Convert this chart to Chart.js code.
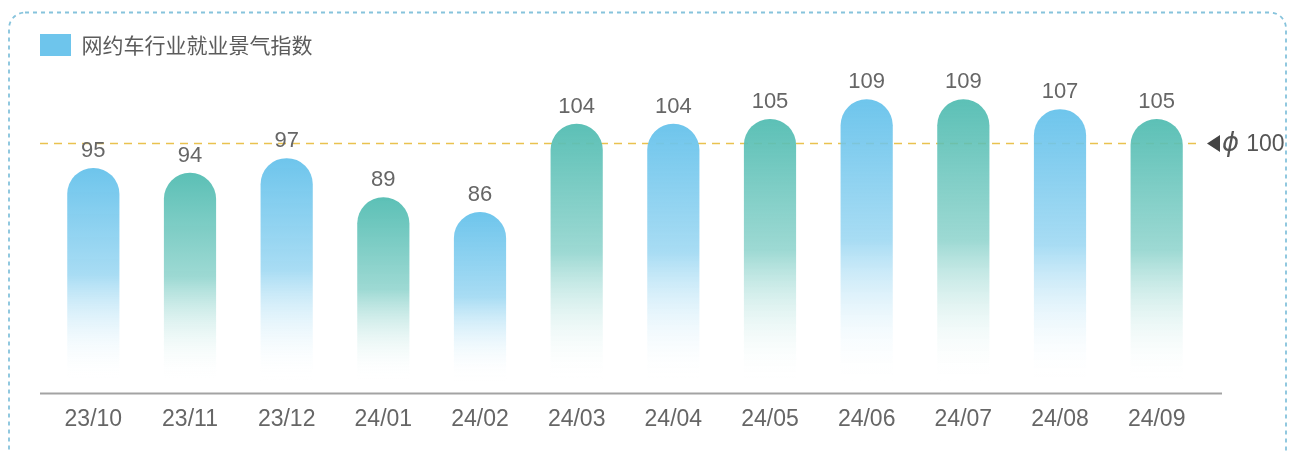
<!DOCTYPE html>
<html>
<head>
<meta charset="utf-8">
<script src="https://cdn.jsdelivr.net/npm/chart.js@4.4.1/dist/chart.umd.min.js"></script>
<style>
  body { margin: 0; background: #ffffff; }
  #wrap { width: 1289px; height: 451px; }
</style>
</head>
<body>
<div id="wrap"><canvas id="jobIndexChart" width="1289" height="451"></canvas></div>
<script>
// podaci sa slike
const months = ['23/10', '23/11', '23/12', '24/01', '24/02', '24/03', '24/04', '24/05', '24/06', '24/07', '24/08', '24/09'];
const indexValues = [95, 94, 97, 89, 86, 104, 104, 105, 109, 109, 107, 105];
const seriesName = '网约车行业就业景气指数';
const baseLine = 100;
const baseSymbol = 'ϕ';
const barColors = ['#6ec5ec', '#5cc0b6'];  // plava i tirkizna, naizmenicno

// okvir sa isprekidanom linijom oko cele kartice
const framePlugin = {
    id: 'frame',
    beforeDraw(chart) {
        const c = chart.ctx;
        c.save();
        c.strokeStyle = '#86c3dc';
        c.lineWidth = 1.8;
        c.setLineDash([4, 4]);
        c.beginPath();
        c.roundRect(9, 12.5, 1277, 480, 16);
        c.stroke();
        c.restore();
    }
};

// referentna linija na 100 i osa x
const baseLinePlugin = {
    id: 'baseLine',
    beforeDatasetsDraw(chart) {
        const c = chart.ctx;
        const area = chart.chartArea;
        const y = chart.scales.y.getPixelForValue(baseLine);
        c.save();
        c.strokeStyle = '#e9c24f';
        c.lineWidth = 1.6;
        c.setLineDash([8, 6]);
        c.beginPath();
        c.moveTo(area.left - 5, y);
        c.lineTo(area.right - 8, y);
        c.stroke();
        c.setLineDash([]);
        // strelica
        const ax = area.right + 2;
        c.fillStyle = '#444444';
        c.beginPath();
        c.moveTo(ax, y);
        c.lineTo(ax + 13, y - 8.5);
        c.lineTo(ax + 13, y + 8.5);
        c.closePath();
        c.fill();
        c.fillStyle = '#555555';
        c.textAlign = 'left';
        c.textBaseline = 'middle';
        c.font = 'italic 26px "DejaVu Sans", sans-serif';
        c.fillText(baseSymbol, ax + 15, y + 1);
        const w = c.measureText(baseSymbol).width;
        c.font = '23px "Liberation Sans", Arial, sans-serif';
        c.fillText(String(baseLine), ax + 15 + w + 7, y + 1);
        // osa x
        c.strokeStyle = '#a3a3a3';
        c.lineWidth = 2;
        c.beginPath();
        c.moveTo(area.left - 5, area.bottom);
        c.lineTo(area.right + 17, area.bottom);
        c.stroke();
        c.restore();
    }
};

// brojevi iznad stubica
const valueLabelPlugin = {
    id: 'valueLabels',
    afterDatasetsDraw(chart) {
        const c = chart.ctx;
        const meta = chart.getDatasetMeta(0);
        c.save();
        c.fillStyle = '#666666';
        c.font = '22px "Liberation Sans", Arial, sans-serif';
        c.textAlign = 'center';
        c.textBaseline = 'alphabetic';
        meta.data.forEach((bar, i) => {
            c.fillText(String(indexValues[i]), bar.x, bar.y - 11);
        });
        c.restore();
    }
};

function barGradient(ctx) {
    const chart = ctx.chart;
    const area = chart.chartArea;
    const color = barColors[ctx.dataIndex % 2];
    if (!area || ctx.raw === undefined) return color;
    const top = chart.scales.y.getPixelForValue(ctx.raw);
    const g = chart.ctx.createLinearGradient(0, top, 0, area.bottom - 12);
    g.addColorStop(0, color);
    g.addColorStop(0.5, color + '99');
    g.addColorStop(1, 'rgba(255,255,255,0)');
    return g;
}

const ctx = document.getElementById('jobIndexChart').getContext('2d');
new Chart(ctx, {
    type: 'bar',
    data: {
        labels: months,
        datasets: [{
            label: seriesName,
            data: indexValues,
            backgroundColor: barGradient,
            borderWidth: 0,
            borderRadius: { topLeft: 26, topRight: 26, bottomLeft: 0, bottomRight: 0 },
            borderSkipped: 'bottom',
            barPercentage: 0.54,
            categoryPercentage: 1
        }]
    },
    options: {
        responsive: false,
        animation: false,
        layout: { padding: { left: 30, right: 84, top: 24, bottom: 6 } },
        plugins: {
            legend: {
                align: 'start',
                labels: {
                    boxWidth: 31,
                    boxHeight: 22,
                    padding: 10,
                    color: '#5c5c5c',
                    font: { size: 21, family: '"Noto Sans CJK SC", sans-serif' },
                    generateLabels(chart) {
                        return [{
                            text: seriesName,
                            fillStyle: barColors[0],
                            strokeStyle: barColors[0],
                            fontColor: '#5c5c5c',
                            lineWidth: 0,
                            datasetIndex: 0
                        }];
                    }
                }
            },
            tooltip: { enabled: false }
        },
        scales: {
            x: {
                grid: { display: false, drawTicks: false },
                border: { display: false },
                ticks: {
                    color: '#666666',
                    padding: 12,
                    font: { size: 23, family: '"Liberation Sans", Arial, sans-serif' }
                }
            },
            y: {
                min: 49,
                max: 115.8,
                display: true,
                grid: { display: false, drawTicks: false },
                border: { display: false },
                ticks: { display: false },
                afterFit(scale) { scale.width = 15; }
            }
        }
    },
    plugins: [framePlugin, baseLinePlugin, valueLabelPlugin]
});
</script>
</body>
</html>
